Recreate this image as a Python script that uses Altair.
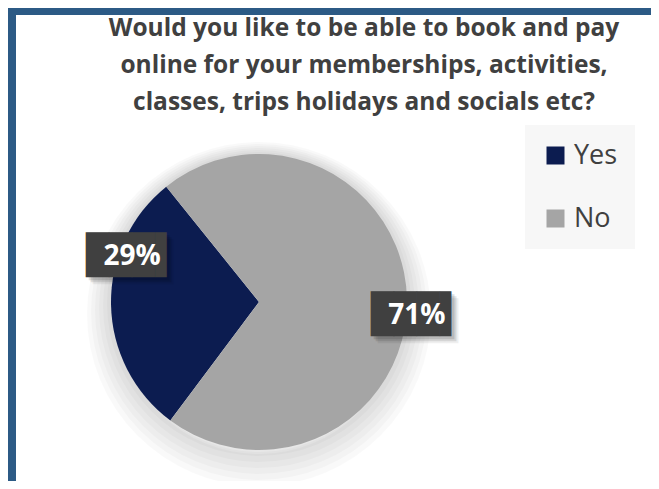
import math
import altair as alt
import pandas as pd

# ---- data ----
answers = ["Yes", "No"]
shares = [29, 71]
share_labels = ["29%", "71%"]
slice_colors = ["#0c1c50", "#a5a5a5"]
title_lines = [
    "Would you like to be able to book and pay",
    "online for your memberships, activities,",
    "classes, trips holidays and socials etc?",
]

df = pd.DataFrame({
    "answer": answers,
    "share": shares,
    "label": share_labels,
    "rank": list(range(len(answers))),
})

start = math.radians(216.8)
theta_scale = alt.Scale(range=[start, start + 2 * math.pi])
theta = alt.Theta("share:Q", stack=True, scale=theta_scale)
order = alt.Order("rank:Q", sort="ascending")

base = alt.Chart(df)
one = base.transform_filter(alt.datum.rank == 0)

# soft glow / shadow around the pie
glow = [
    one.mark_arc(theta=0, theta2=2 * math.pi, radius=140, radius2=148 + r,
                 color="#000000", opacity=0.025).encode(x=alt.value(251), y=alt.value(150 + r // 2))
    for r in (4, 8, 12, 16, 20, 24)
]

pie = base.mark_arc(outerRadius=148, strokeWidth=0).encode(
    theta=theta,
    order=order,
    color=alt.Color(
        "answer:N",
        scale=alt.Scale(domain=answers, range=slice_colors),
        legend=alt.Legend(
            title=None, orient="none", legendX=517, legendY=-27,
            fillColor="#f7f7f7", padding=17, symbolType="square",
            symbolSize=324, symbolStrokeWidth=0, symbolOpacity=1,
            labelFont="Open Sans", labelFontSize=27, labelColor="#404040",
            rowPadding=35, labelOffset=5,
        ),
    ),
)

BOX = "\u2588\u2588\u2588\u258c"


def label_layers(which, radius, dx, dy):
    show = alt.datum.answer == which
    layers = []
    for off, op in ((3, 0.12), (5, 0.10), (7, 0.06)):
        layers.append(base.mark_text(
            radius=radius, text=BOX, font="DejaVu Sans Mono", fontSize=38,
            color="#000000", dx=dx + off, dy=dy + off, baseline="middle", align="center",
        ).encode(theta=theta, order=order,
                 opacity=alt.condition(show, alt.value(op), alt.value(0))))
    layers.append(base.mark_text(
        radius=radius, text=BOX, font="DejaVu Sans Mono", fontSize=38,
        color="#404040", dx=dx, dy=dy, baseline="middle", align="center",
    ).encode(theta=theta, order=order,
             opacity=alt.condition(show, alt.value(1), alt.value(0))))
    layers.append(base.mark_text(
        radius=radius, font="Open Sans", fontSize=28, fontWeight="bold",
        color="#ffffff", dx=dx, dy=dy, baseline="middle", align="center",
    ).encode(theta=theta, order=order, text="label:N",
             opacity=alt.condition(show, alt.value(1), alt.value(0))))
    return layers


frame_left = one.mark_rect(color="#2c5a85").encode(
    x=alt.value(0), x2=alt.value(8), y=alt.value(-144), y2=alt.value(329))
frame_top = one.mark_rect(color="#2c5a85").encode(
    x=alt.value(0), x2=alt.value(643), y=alt.value(-144), y2=alt.value(-137))

layers = [frame_left, frame_top] + glow + [pie]
layers += label_layers("Yes", 132, 5, -47)
layers += label_layers("No", 152, 6, 17)

chart = alt.layer(*layers).properties(
    width=502,
    height=300,
    autosize=alt.AutoSizeParams(type="none"),
    padding={"left": 0, "top": 144, "right": 141, "bottom": 29},
    background="#ffffff",
    title=alt.TitleParams(
        text=title_lines, font="Open Sans", fontSize=24.5, fontWeight="bold",
        color="#404040", lineHeight=37, anchor="middle", dx=105, offset=40,
        dy=147, frame="group",
    ),
).configure_view(stroke=None)

chart.save("out.html", embed_options={"renderer": "svg", "actions": False})
